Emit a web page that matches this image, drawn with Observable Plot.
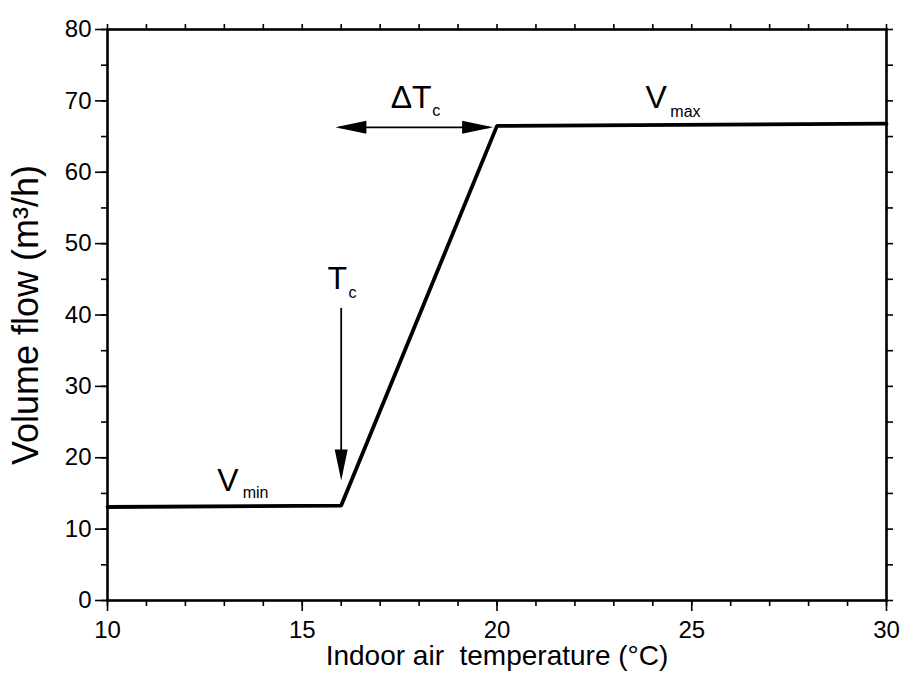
<!DOCTYPE html>
<html>
<head>
<meta charset="utf-8">
<script src="https://cdn.jsdelivr.net/npm/d3@7"></script>
<script src="https://cdn.jsdelivr.net/npm/@observablehq/plot@0.6"></script>
<style>
  html, body { margin: 0; padding: 0; background: #fff; }
  #chart svg { display: block; }
</style>
</head>
<body>
<div id="chart"></div>
<script>
// Control curve: indoor air temperature (°C) vs volume flow (m³/h)
const curveTemp = [10, 16, 20, 30];
const curveFlow = [13.1, 13.3, 66.5, 66.8];

// Tick values
const xMajorTicks = [10, 15, 20, 25, 30];
const xMinorTicks = d3.range(10, 31, 1);
const yMajorTicks = [0, 10, 20, 30, 40, 50, 60, 70, 80];
const yMinorTicks = d3.range(0, 81, 5);

// Arrow shafts (data coordinates)
const shaftX1 = [16.0, 15.95];
const shaftY1 = [41.0, 66.3];
const shaftX2 = [16.0, 19.8];
const shaftY2 = [17.5, 66.3];

// Arrow tips (data coordinates) and pointing direction
const tipX = [16.0, 15.85, 19.9];
const tipY = [16.8, 66.3, 66.3];
const tipDir = ["down", "left", "right"];

// Annotation labels: main letter and subscript
const labelText = ["V", "T", "\u0394T", "V"];
const labelX = [12.82, 15.65, 17.27, 23.81];
const labelY = [15.4, 43.7, 69.0, 69.0];
const subText = ["min", "c", "c", "max"];
const subX = [13.47, 16.19, 18.34, 24.45];
const subY = [14.3, 42.4, 67.9, 67.8];

const xLabel = "Indoor air  temperature (\u00b0C)";
const yLabel = "Volume flow (m\u00b3/h)";

const curve = curveTemp.map((t, i) => ({t, v: curveFlow[i]}));
const shafts = shaftX1.map((x1, i) => ({x1, y1: shaftY1[i], x2: shaftX2[i], y2: shaftY2[i]}));
const rotation = {down: 0, left: 90, right: -90};
const tips = tipX.map((x, i) => ({x, y: tipY[i], r: rotation[tipDir[i]]}));
const labels = labelText.map((s, i) => ({s, x: labelX[i], y: labelY[i]}));
const subs = subText.map((s, i) => ({s, x: subX[i], y: subY[i]}));

// filled, elongated arrowhead with tip at origin pointing down
const arrowHead = {
  draw(context) {
    context.moveTo(0, 0);
    context.lineTo(-6.5, -31);
    context.lineTo(6.5, -31);
    context.closePath();
  }
};

const font = "'Liberation Sans', Arial, Helvetica, sans-serif";
const blank = () => "";

const chart = Plot.plot({
  width: 904,
  height: 673,
  marginLeft: 107,
  marginRight: 18,
  marginTop: 29,
  marginBottom: 73,
  style: {fontFamily: font, background: "#fff", color: "#000"},
  x: {domain: [10, 30]},
  y: {domain: [0, 80]},
  marks: [
    // bottom axis
    Plot.axisX({anchor: "bottom", ticks: xMinorTicks, tickSize: 6, tickFormat: blank, label: null, strokeWidth: 1.6}),
    Plot.axisX({anchor: "bottom", ticks: xMajorTicks, tickSize: 11, tickPadding: 9, fontSize: 24, label: null, strokeWidth: 1.6}),
    // top axis
    Plot.axisX({anchor: "top", ticks: xMinorTicks, tickSize: 6, tickFormat: blank, label: null, strokeWidth: 1.6}),
    // left axis
    Plot.axisY({anchor: "left", ticks: yMinorTicks, tickSize: 6, tickFormat: blank, label: null, strokeWidth: 1.6}),
    Plot.axisY({anchor: "left", ticks: yMajorTicks, tickSize: 12, tickPadding: 4, fontSize: 24, label: null, strokeWidth: 1.6}),
    // right axis
    Plot.axisY({anchor: "right", ticks: yMinorTicks, tickSize: 6, tickFormat: blank, label: null, strokeWidth: 1.6}),
    Plot.frame({stroke: "#000", strokeWidth: 2.6}),
    // control curve
    Plot.line(curve, {x: "t", y: "v", stroke: "#000", strokeWidth: 3.8, strokeLinejoin: "miter"}),
    // arrows
    Plot.link(shafts, {x1: "x1", y1: "y1", x2: "x2", y2: "y2", stroke: "#000", strokeWidth: 1.8}),
    Plot.dot(tips, {x: "x", y: "y", rotate: "r", symbol: arrowHead, r: 5, fill: "#000", stroke: "none"}),
    // annotation labels
    Plot.text(labels, {x: "x", y: "y", text: "s", textAnchor: "start", lineAnchor: "bottom", fontSize: 32, fill: "#000"}),
    Plot.text(subs, {x: "x", y: "y", text: "s", textAnchor: "start", lineAnchor: "bottom", fontSize: 16, fill: "#000"}),
    // axis titles
    Plot.text([xLabel], {frameAnchor: "bottom", textAnchor: "middle", dy: 56, lineAnchor: "middle", fontSize: 28, fill: "#000"}),
    Plot.text([yLabel], {frameAnchor: "left", textAnchor: "middle", dx: -81, rotate: -90, lineAnchor: "middle", fontSize: 36, fill: "#000"})
  ]
});

document.getElementById("chart").appendChild(chart);
</script>
</body>
</html>
